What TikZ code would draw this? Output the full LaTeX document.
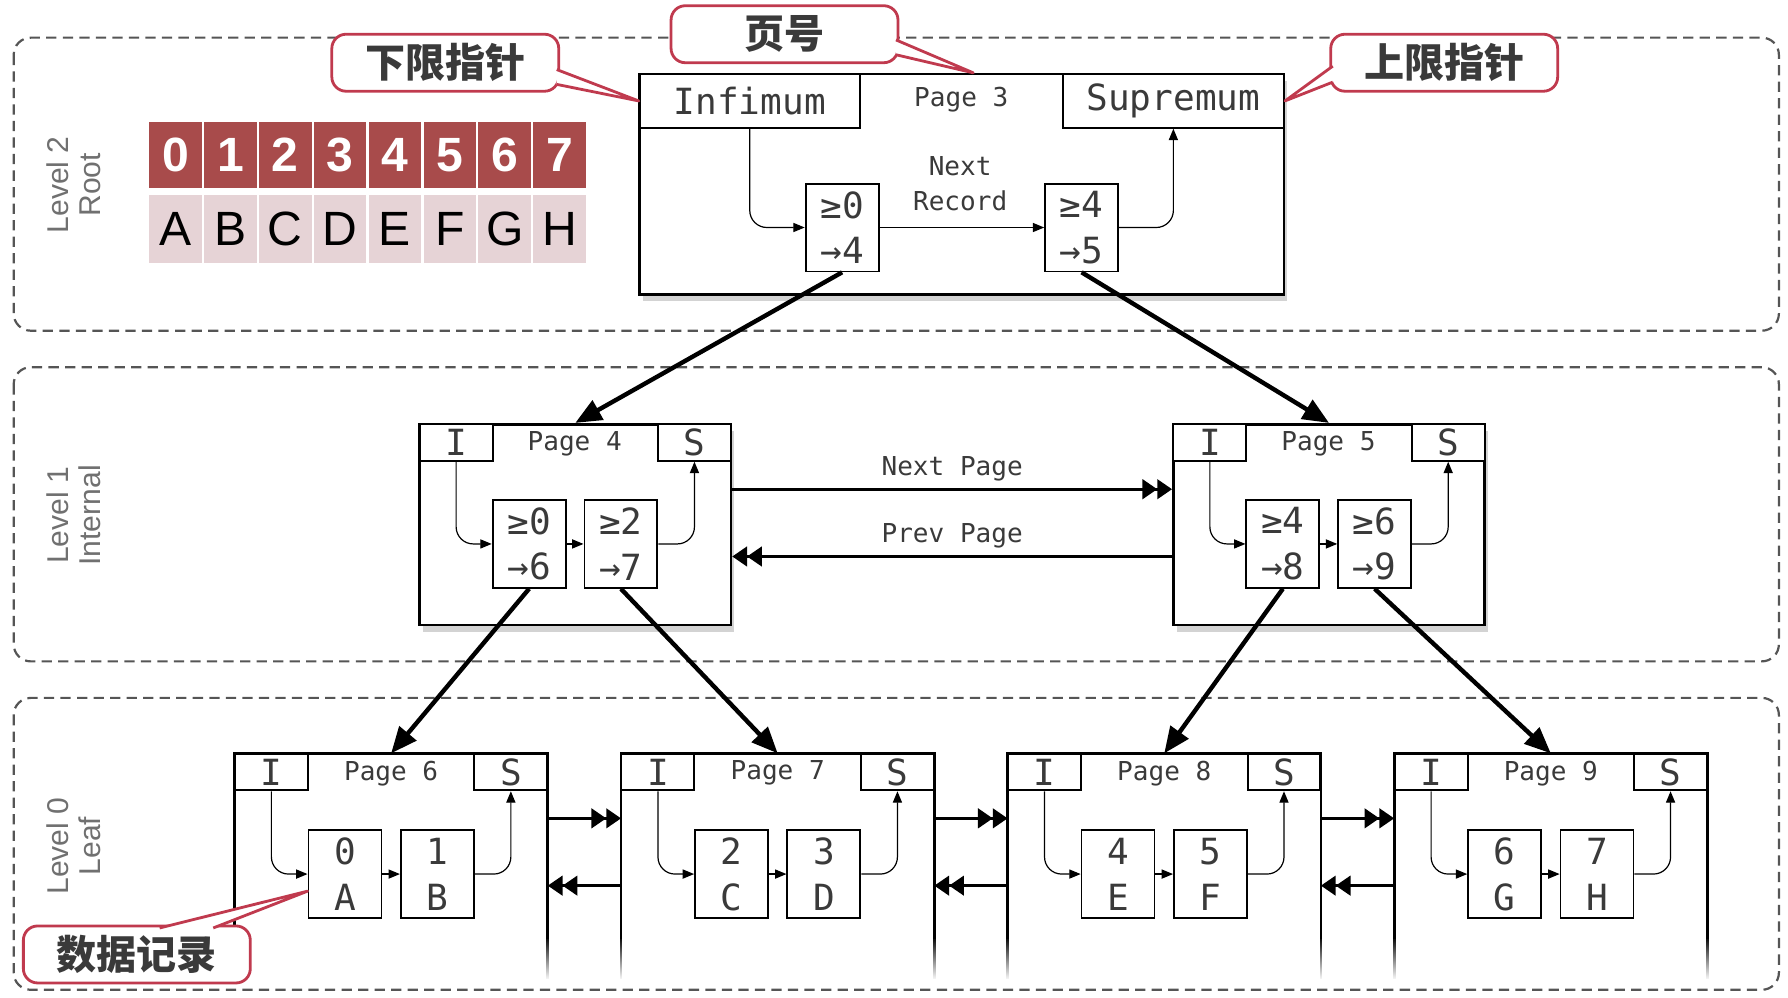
\documentclass[tikz,border=0pt]{standalone}
\usepackage{fontspec}
\setsansfont{Liberation Sans}
\setmonofont{DejaVu Sans Mono}
\newfontfamily\cjk{Noto Sans CJK SC}
\usetikzlibrary{arrows.meta, positioning, shadows, fadings, calc}
\definecolor{tableRed}{HTML}{A84B4B}
\definecolor{tablePink}{HTML}{E6D3D6}
\definecolor{noteRed}{HTML}{C03A4E}
\definecolor{levelGray}{HTML}{555555}
\definecolor{labelGray}{HTML}{707070}
\definecolor{textDark}{HTML}{3A3A3A}
\newcommand{\pu}{0.2mm}

\tikzset{
  levelbox/.style={draw=levelGray, line width=1.1pt, dash pattern=on 1.8mm off 1.1mm, rounded corners=3mm},
  levellbl/.style={rotate=90, align=center, text=labelGray, font=\sffamily\fontsize{15}{16}\selectfont},
  cellhi/.style={fill=tableRed, text=white, minimum width=46*\pu, minimum height=58*\pu, inner sep=0, font=\sffamily\bfseries\fontsize{24}{24}\selectfont},
  celllo/.style={fill=tablePink, text=black, minimum width=46*\pu, minimum height=60*\pu, inner sep=0, font=\sffamily\fontsize{24}{24}\selectfont},
  pagebox/.style={draw, line width=1.3pt, fill=white, inner sep=0, drop shadow={shadow xshift=0.6mm, shadow yshift=-1.2mm, opacity=0.35}},
  pageline/.style={line width=1.3pt},
  hdrbox/.style={draw, line width=1pt, fill=white, inner sep=0, text=textDark, font=\ttfamily\fontsize{18}{18}\selectfont},
  recbox/.style={draw, line width=0.9pt, fill=white, minimum width=64*\pu, minimum height=77*\pu, inner sep=0, align=center, text=textDark, font=\ttfamily\fontsize{18}{22.8}\selectfont},
  pagelbl/.style={text=textDark, font=\ttfamily\fontsize{13}{17.6}\selectfont},
  recarrow/.style={-{Triangle[length=2mm, width=1.6mm]}, line width=0.6pt, rounded corners=3mm},
  treearrow/.style={-{Triangle[length=4.6mm, width=3.8mm]}, line width=2.2pt},
  linkarrow/.style={-{Triangle[length=2.6mm, width=3.4mm]Triangle[length=2.6mm, width=3.4mm]}, line width=1.6pt},
  note/.style={draw=noteRed, line width=1.4pt, rounded corners=2.5mm, fill=white, minimum width=199*\pu, minimum height=50*\pu, inner sep=0, text=textDark, font=\cjk\bfseries\fontsize{20}{20}\selectfont},
  notewedge/.style={draw=noteRed, fill=white, line width=1.4pt, line join=round}
}

\begin{document}
\begin{tikzpicture}[x=0.2mm, y=-0.2mm]
  \useasboundingbox (0,0) rectangle (1568,875);

  % niveles
  \draw[levelbox] (12,33) rectangle (1560,290);
  \draw[levelbox] (12,322) rectangle (1560,580);
  \draw[levelbox] (12,612) rectangle (1560,868);
  \node[levellbl] (lv2) at (65,162) {Level 2\\Root};
  \node[levellbl] (lv1) at (65,452) {Level 1\\Internal};
  \node[levellbl] (lv0) at (65,742) {Level 0\\Leaf};

  % tabla de claves
  \foreach \l [count=\i from 0] in {A,B,C,D,E,F,G,H} {
    \node[cellhi] (k\i) at (154+48.1*\i,136) {\i};
    \node[celllo] (v\i) at (154+48.1*\i,201) {\l};
  }

  % pagina raiz
  \node[pagebox, minimum width=565*\pu, minimum height=193*\pu] (p3) at (843.5,161.5) {};
  \node[hdrbox, minimum width=193*\pu, minimum height=47*\pu] (inf) at (657.5,88.5) {Infimum};
  \node[hdrbox, minimum width=194*\pu, minimum height=47*\pu] (sup) at (1029,88.5) {Supremum};
  \node[pagelbl] (pg3) at (843,87) {Page 3};
  \node[recbox] (ra3) at (738.5,199.5) {≥0\\→4};
  \node[recbox] (rb3) at (948.5,199.5) {≥4\\→5};
  \node[pagelbl, align=center] (nr) at (842,161) {Next\\Record};
  \draw[recarrow] (inf.south) |- (ra3.west);
  \draw[recarrow] (ra3.east) -- (rb3.west);
  \draw[recarrow] (rb3.east) -| (sup.south);

  % paginas internas
  \foreach \n/\x/\a/\b/\c/\d in {4/368/0/6/2/7, 5/1029/4/8/6/9} {
    \node[pagebox, minimum width=273*\pu, minimum height=176*\pu] (p\n) at (\x+136.5,460) {};
    \node[hdrbox, minimum width=64*\pu, minimum height=32*\pu] (I\n) at (\x+32,388) {I};
    \node[hdrbox, minimum width=64*\pu, minimum height=32*\pu] (S\n) at (\x+241,388) {S};
    \node[pagelbl] (pg\n) at (\x+136,389) {Page \n};
    \node[recbox] (ra\n) at (\x+96,477) {≥\a\\→\b};
    \node[recbox] (rb\n) at (\x+176.5,477) {≥\c\\→\d};
    \draw[recarrow] (I\n.south) |- (ra\n.west);
    \draw[recarrow] (ra\n.east) -- (rb\n.west);
    \draw[recarrow] (rb\n.east) -| (S\n.south);
  }
  \draw[linkarrow] ([yshift=6.2mm]p4.east) -- node[pagelbl, above] (np) {Next Page} ([yshift=6.2mm]p5.west);
  \draw[linkarrow] ([yshift=-5.6mm]p5.west) -- node[pagelbl, above] (pp) {Prev Page} ([yshift=-5.6mm]p4.east);

  % paginas hoja
  \foreach \n/\x/\a/\b/\c/\d in {6/206/0/A/1/B, 7/545/2/C/3/D, 8/884/4/E/5/F, 9/1223/6/G/7/H} {
    \node[minimum width=274*\pu, minimum height=197*\pu, inner sep=0] (pf\n) at (\x+137,759.5) {};
    \draw[pageline] ([yshift=7mm]pf\n.south west) |- (pf\n.north east) -- ([yshift=7mm]pf\n.south east);
    \draw[pageline, path fading=south] ([yshift=7.2mm]pf\n.south west) -- (pf\n.south west)
      ([yshift=7.2mm]pf\n.south east) -- (pf\n.south east);
    \node[hdrbox, minimum width=64*\pu, minimum height=32*\pu] (I\n) at (\x+32,677) {I};
    \node[hdrbox, minimum width=64*\pu, minimum height=32*\pu] (S\n) at (\x+242,677) {S};
    \node[pagelbl] (pg\n) at (\x+137,678) {Page \n};
    \node[recbox] (ra\n) at (\x+96.5,766.5) {\a\\\b};
    \node[recbox] (rb\n) at (\x+177.5,766.5) {\c\\\d};
    \draw[recarrow] (I\n.south) |- (ra\n.west);
    \draw[recarrow] (ra\n.east) -- (rb\n.west);
    \draw[recarrow] (rb\n.east) -| (S\n.south);
  }
  \foreach \a/\b in {6/7, 7/8, 8/9} {
    \draw[linkarrow] ([yshift=-11.4mm]pf\a.north east) -- ([yshift=-11.4mm]pf\b.north west);
    \draw[linkarrow] ([yshift=-23.2mm]pf\b.north west) -- ([yshift=-23.2mm]pf\a.north east);
  }

  % punteros entre niveles
  \draw[treearrow] (ra3.south) -- (p4.north);
  \draw[treearrow] (rb3.south) -- (p5.north);
  \draw[treearrow] (ra4.south) -- (pf6.north);
  \draw[treearrow] (rb4.south) -- (pf7.north);
  \draw[treearrow] (ra5.south) -- (pf8.north);
  \draw[treearrow] (rb5.south) -- (pf9.north);

  % notas
  \node[note] (noteLo) at (390.5,55) {下限指针};
  \node[note] (noteNo) at (688,30) {页号};
  \node[note] (noteHi) at (1266.5,55) {上限指针};
  \node[note] (noteRec) at (120,837) {数据记录};
  \filldraw[notewedge] ([xshift=-0.6mm, yshift=-1.2mm]noteLo.east) -- (inf.west) -- ([xshift=-0.6mm, yshift=-3.8mm]noteLo.east);
  \filldraw[notewedge] ([xshift=-0.6mm, yshift=-1mm]noteNo.east) -- ([xshift=2mm]p3.north) -- ([xshift=-0.6mm, yshift=-3.6mm]noteNo.east);
  \filldraw[notewedge] ([xshift=0.6mm, yshift=-0.6mm]noteHi.west) -- (sup.east) -- ([xshift=0.6mm, yshift=-3.4mm]noteHi.west);
  \filldraw[notewedge] ([xshift=4mm, yshift=-0.6mm]noteRec.north) -- ([yshift=-3mm]ra6.west) -- ([xshift=13.4mm, yshift=-0.6mm]noteRec.north);
\end{tikzpicture}
\end{document}
